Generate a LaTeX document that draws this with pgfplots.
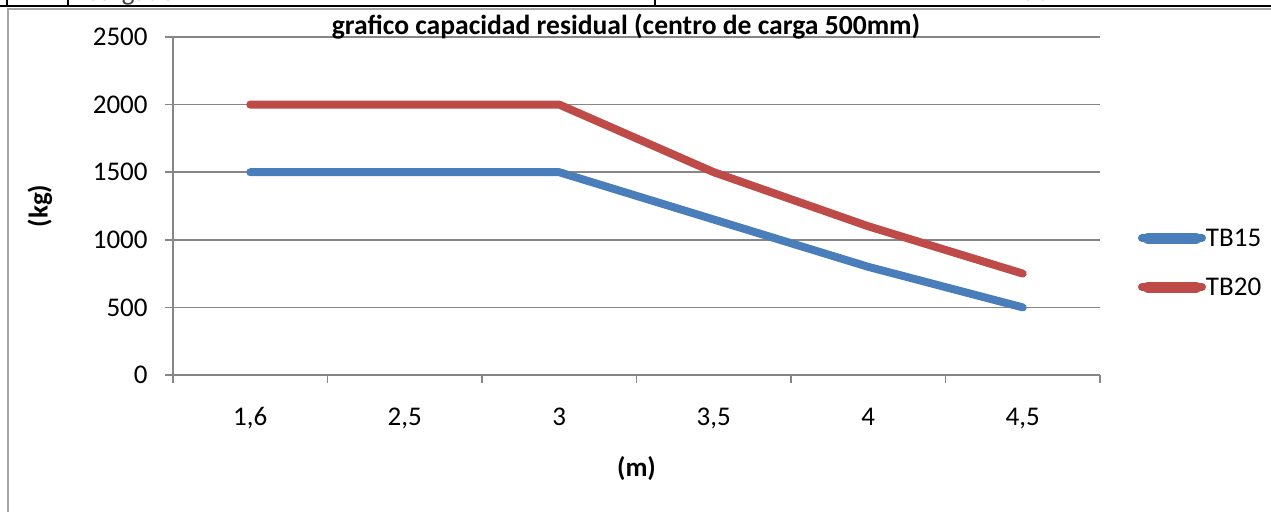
\documentclass[border=0pt]{standalone}
\usepackage{pgfplots}
\pgfplotsset{compat=1.18}
\usepackage{fontspec}
\setmainfont{Carlito}

\definecolor{xlblue}{RGB}{74,126,187}
\definecolor{xlred}{RGB}{190,75,72}
\definecolor{xlgrid}{RGB}{134,134,134}
\newcommand\chartfont{\fontsize{13.5}{16}\selectfont}

\begin{document}
\chartfont
\begin{tikzpicture}
% pixel frame of the reference: (0,0) top left, y downwards
\begin{scope}[x=0.5pt,y=-0.5pt]
\useasboundingbox (0,0) rectangle (1271,512);
% strip of the sheet above the chart
\begin{scope}
\clip (0,0) rectangle (1271,6);
\node[anchor=base west, inner sep=0pt, text=black!75, font=\chartfont] at (85,1) {Cargado};
\node[anchor=base west, inner sep=0pt, text=black!75, font=\chartfont] at (1022,1) {50};
\end{scope}
\draw[line width=0.75pt] (0,6) -- (1271,6);
\draw[line width=0.6pt] (7,0) -- (7,6) (68,0) -- (68,6) (655,0) -- (655,6);
% chart area border
\draw[black!35, line width=0.6pt] (8,530) -- (8,9) -- (1290,9);
\end{scope}

\begin{axis}[
  at={(86.5pt,-187.5pt)}, anchor=south west,
  scale only axis, width=463.5pt, height=169pt,
  xmin=0.5, xmax=6.5, ymin=0, ymax=2500,
  xtick={0.5,1.5,...,6.5},
  x tick label as interval,
  xticklabels={{1,6},{2,5},{3},{3,5},{4},{4,5}},
  ytick={0,500,...,2500},
  axis x line*=bottom, axis y line*=left,
  axis line style={draw=xlgrid, line width=0.75pt, -},
  tick style={draw=xlgrid, line width=0.75pt},
  major tick length=4pt, tick align=outside,
  ymajorgrids, grid style={xlgrid, line width=0.75pt},
  /pgf/number format/.cd, 1000 sep={}, assume math mode=true, /pgfplots/.cd,
  ticklabel style={font=\chartfont},
  xticklabel style={anchor=base, yshift=-21.5pt},
  yticklabel style={anchor=east, xshift=-4pt},
  xlabel={(m)},
  xlabel style={at={([yshift=-51pt]axis description cs:0.5,0)}, anchor=base, font=\chartfont\bfseries},
  ylabel={(kg)},
  ylabel style={at={([xshift=-66.5pt]axis description cs:0,0.5)}, anchor=center, font=\chartfont\bfseries},
  legend cell align=left,
  legend style={at={([xshift=19pt]axis description cs:1,0.3328)}, anchor=west,
    draw=none, fill=none, inner sep=0pt, outer sep=0pt, font=\chartfont,
    row sep=16.5pt, column sep=0pt,
    nodes={inner sep=0pt, text height=8pt, text depth=0pt}},
  legend image code/.code={
    \draw[#1, line width=5.5pt, line cap=round] (2.75pt,0pt) -- (27.25pt,0pt);
    \path (0pt,0pt) -- (30pt,0pt);
  },
]
\addplot[xlblue, line width=4pt, line join=round, line cap=round]
  coordinates {(1,1500) (2,1500) (3,1500) (4,1150) (5,800) (6,500)};
\addlegendentry{TB15}
\addplot[xlred, line width=4pt, line join=round, line cap=round]
  coordinates {(1,2000) (2,2000) (3,2000) (4,1500) (5,1100) (6,750)};
\addlegendentry{TB20}
\end{axis}

\begin{scope}[x=0.5pt,y=-0.5pt]
\node[font=\fontsize{13.8}{16}\selectfont\bfseries, anchor=base, inner sep=0pt] at (626,35) {grafico capacidad residual (centro de carga 500mm)};
\end{scope}
\end{tikzpicture}
\end{document}
